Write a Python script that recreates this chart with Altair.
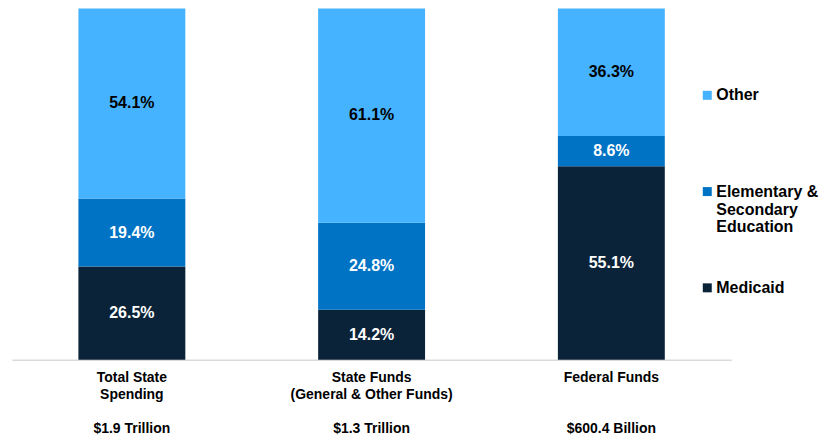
import json
import altair as alt
import pandas as pd

# ---- data ----
categories = ["Total State Spending", "State Funds (General & Other Funds)", "Federal Funds"]
category_lines = [["Total State", "Spending"], ["State Funds", "(General & Other Funds)"], ["Federal Funds"]]
totals = ["$1.9 Trillion", "$1.3 Trillion", "$600.4 Billion"]
series = ["Medicaid", "Elementary & Secondary Education", "Other"]
series_lines = [["Medicaid"], ["Elementary &", "Secondary", "Education"], ["Other"]]
medicaid = [26.5, 14.2, 55.1]
education = [19.4, 24.8, 8.6]
other = [54.1, 61.1, 36.3]
colors = ["#0B2339", "#0073C4", "#45B3FF"]

rows = []
for i, c in enumerate(categories):
    for j, (s, vals) in enumerate(zip(series, [medicaid, education, other])):
        rows.append({"category": c, "series": s, "order": j,
                     "value": vals[i], "label": f"{vals[i]:.1f}%"})
df = pd.DataFrame(rows)

BLANK = "\u200b"
axis_map = {c: (lines + [BLANK] * (2 - len(lines))) + [BLANK, t]
            for c, lines, t in zip(categories, category_lines, totals)}
axis_expr = f"{json.dumps(axis_map)}[datum.value]"
legend_map = {s: l for s, l in zip(series, series_lines)}
legend_expr = f"{json.dumps(legend_map)}[datum.label]"

FONT = "Liberation Sans"

x_enc = alt.X(
    "category:N", sort=categories, title=None,
    scale=alt.Scale(paddingInner=0.554, paddingOuter=0.277),
    axis=alt.Axis(labelAngle=0, labelExpr=axis_expr, labelFont=FONT, labelFontSize=14,
                  labelFontWeight="bold", labelColor="#000000", labelLineHeight=17,
                  labelBaseline="top", labelPadding=11, ticks=False, labelOverlap=False,
                  domainColor="#d9d9d9", domainWidth=1.5, labelLimit=300),
)
y_scale = alt.Scale(domain=[0, 100], nice=False, zero=True, clamp=True)

bars = alt.Chart(df).mark_bar().encode(
    x=x_enc,
    y=alt.Y("value:Q", stack="zero", scale=y_scale, axis=None),
    color=alt.Color(
        "series:N",
        scale=alt.Scale(domain=series[::-1], range=colors[::-1]),
        legend=alt.Legend(
            title=None, orient="none", legendX=689, legendY=79, direction="vertical",
            symbolType="square", symbolSize=81, symbolStrokeWidth=0,
            labelFont=FONT, labelFontSize=16, labelFontWeight="bold", labelColor="#000000",
            labelBaseline="middle", labelOffset=1, labelLimit=300,
            rowPadding=44.5, gridAlign="all", padding=0, labelExpr=legend_expr,
        ),
    ),
    order=alt.Order("order:Q"),
)

text = alt.Chart(df).transform_stack(
    stack="value", groupby=["category"], as_=["y0", "y1"], sort=[alt.SortField("order")]
).transform_calculate(
    mid="(datum.y0 + datum.y1) / 2"
).mark_text(font=FONT, fontSize=16, fontWeight="bold").encode(
    x=alt.X("category:N", sort=categories),
    y=alt.Y("mid:Q", scale=y_scale),
    text="label:N",
    color=alt.condition("datum.series == 'Other'", alt.value("#000000"), alt.value("#ffffff")),
)

chart = alt.layer(bars, text).properties(
    width=721, height=352,
    padding={"left": 4, "top": 0, "right": 0, "bottom": 0},
    background="#ffffff",
).configure_view(stroke=None)

chart.save("out.html", embed_options={"renderer": "svg", "actions": False})
